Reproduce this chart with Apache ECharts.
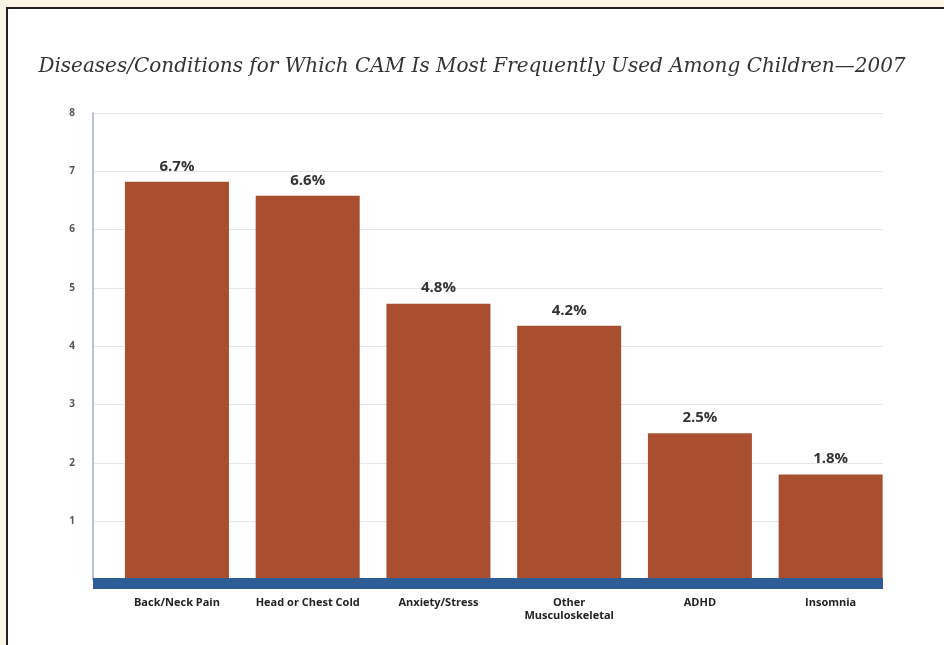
<!DOCTYPE html>
<html>
<head>
<meta charset="utf-8">
<script src="https://cdn.jsdelivr.net/npm/echarts@6/dist/echarts.min.js"></script>
<style>
  html, body { margin: 0; padding: 0; background: #fdf5e6; }
  #panel {
    position: absolute; left: 6px; top: 7px; width: 960px; height: 660px;
    background: #fff; border-left: 2px solid #222; border-top: 2px solid #222;
  }
  #chart { position: absolute; left: 0; top: 0; width: 944px; height: 645px; }
</style>
</head>
<body>
<div id="panel"></div>
<div id="chart"></div>
<script>
const categories = ['Back/Neck Pain', 'Head or Chest Cold', 'Anxiety/Stress', 'Other\nMusculoskeletal', 'ADHD', 'Insomnia'];
const barValues = [6.82, 6.58, 4.73, 4.35, 2.51, 1.80];
const barLabels = ['6.7%', '6.6%', '4.8%', '4.2%', '2.5%', '1.8%'];
const yTicks = [1, 2, 3, 4, 5, 6, 7, 8];

const chart = echarts.init(document.getElementById('chart'));

const option = {
  backgroundColor: 'transparent',
  animation: false,
  title: {
    text: 'Diseases/Conditions for Which CAM Is Most Frequently Used Among Children\u20142007',
    left: 'center',
    top: 52,
    textStyle: { fontFamily: 'DejaVu Serif', fontStyle: 'italic', fontWeight: 'normal', fontSize: 20, color: '#333' },
  },
  grid: [
    { left: 93, right: 61, top: 113, bottom: 65.5 },
    { left: 111.6, right: 48, top: 113, bottom: 65.5 },
  ],
  xAxis: [
    {
      gridIndex: 0,
      type: 'category',
      data: categories,
      offset: 4,
      axisLine: { onZero: false, lineStyle: { color: '#2e5c94', width: 11, cap: 'butt' } },
      axisTick: { show: false },
      axisLabel: { show: false },
      z: 5,
    },
    {
      gridIndex: 1,
      type: 'category',
      data: categories,
      axisLine: { show: false },
      axisTick: { show: false },
      axisLabel: {
        interval: 0,
        margin: 17,
        fontFamily: 'Open Sans',
        fontWeight: 'bold',
        fontSize: 11,
        lineHeight: 13,
        color: '#222',
      },
    },
  ],
  yAxis: [
    {
      gridIndex: 0,
      type: 'value',
      min: 0,
      max: 8,
      interval: 1,
      axisLine: { show: true, lineStyle: { color: '#b9c2d8', width: 2 } },
      axisTick: { show: false },
      axisLabel: {
        margin: 18,
        fontFamily: 'Open Sans',
        fontWeight: 'bold',
        fontSize: 10,
        color: '#555',
        formatter: (v) => (yTicks.includes(v) ? String(v) : ''),
      },
      splitLine: { lineStyle: { color: '#e6e6e6', width: 1 } },
    },
    {
      gridIndex: 1,
      type: 'value',
      min: 0,
      max: 8,
      interval: 1,
      show: false,
    },
  ],
  series: [
    {
      type: 'bar',
      xAxisIndex: 1,
      yAxisIndex: 1,
      data: barValues,
      barWidth: 104,
      itemStyle: { color: '#a94e2e' },
      label: {
        show: true,
        position: 'top',
        distance: 8,
        fontFamily: 'Open Sans',
        fontWeight: 'bold',
        fontSize: 15,
        color: '#333',
        formatter: (p) => barLabels[p.dataIndex],
      },
    },
  ],
};

chart.setOption(option);
</script>
</body>
</html>
